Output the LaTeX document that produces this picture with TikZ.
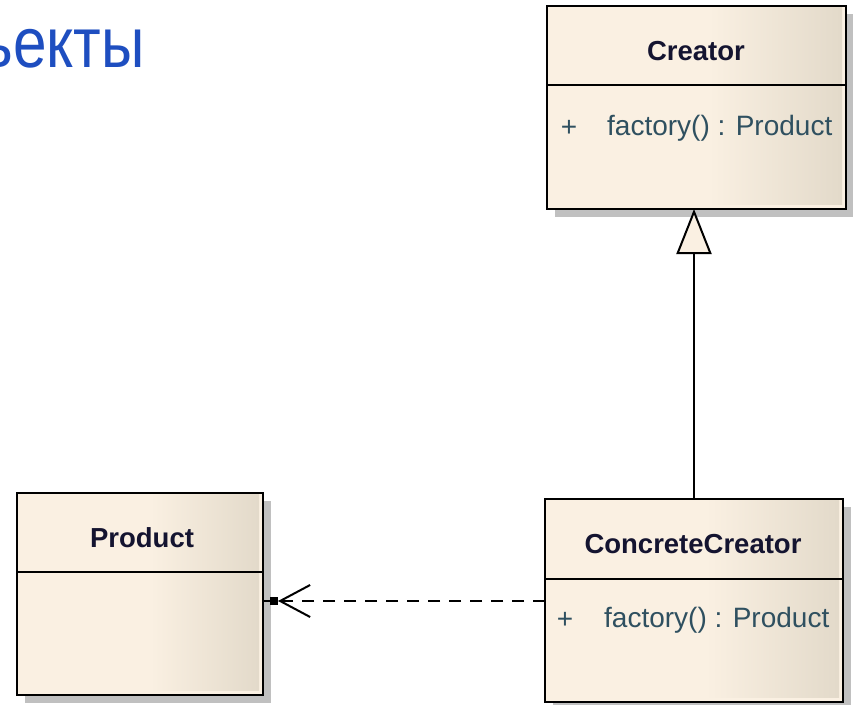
\documentclass[tikz,border=0pt]{standalone}
\usepackage{fontspec}
\setmainfont{Liberation Sans}
\usetikzlibrary{arrows.meta,shadows}
\definecolor{cream}{HTML}{FAF0E2}
\definecolor{tanc}{HTML}{E2D9C9}
\definecolor{titleblue}{HTML}{1E4EC0}
\definecolor{shadowgray}{HTML}{C0C0C0}
\definecolor{nametext}{HTML}{141430}
\definecolor{attrtext}{HTML}{2F5060}
\pgfdeclarehorizontalshading{umlshade}{100bp}{color(0bp)=(cream); color(25bp)=(cream); color(52bp)=(cream); color(75bp)=(tanc); color(100bp)=(tanc)}
\tikzset{
  classbox/.style={draw=black, line width=2.5pt, fill=cream, rectangle, anchor=north west,
    inner sep=0pt, outer sep=0pt,
    general shadow={fill=shadowgray, draw=none, shadow xshift=8pt, shadow yshift=-8pt},
    path picture={\shade[shading=umlshade] ([shift={(0pt,5pt)}]path picture bounding box.south west) rectangle ([shift={(-4pt,0pt)}]path picture bounding box.north east);}},
  divider/.style={line width=2.5pt, black},
  classname/.style={font=\fontsize{27.5}{30}\selectfont\bfseries, text=nametext, inner sep=0pt},
  attr/.style={font=\fontsize{28}{30}\selectfont, text=attrtext, inner sep=0pt},
  titletext/.style={font=\fontsize{71}{80}\selectfont, text=titleblue, inner sep=0pt},
  gen/.style={line width=2pt, -{Triangle[length=45pt,width=35pt,fill=cream]}},
  dep/.style={line width=2.2pt, dash pattern=on 12pt off 9pt, -{Straight Barb[length=30pt,width=32pt,line width=2pt]}},
  sq/.style={fill=black, draw=none, minimum size=8pt, inner sep=0pt, outer sep=0pt}
}
\begin{document}
\begin{tikzpicture}[x=1pt,y=-1pt]
\useasboundingbox (0,0) rectangle (853,704);
\clip (0,0) rectangle (853,704);
\fill[white] (0,0) rectangle (853,704);
% title
\node[titletext, anchor=base east] (title) at (145,67) {\scalebox{0.85}[1]{Объекты}};
% classes
\node[classbox, minimum width=299pt, minimum height=203pt] (creator) at (547,6) {};
\draw[divider] (creator.west |- 0,85) -- (creator.east |- 0,85);
\node[classname] (creatorname) at (696,51) {Creator};
\node[attr] (creatorplus) at (569,128) {+};
\node[attr, anchor=west] (creatorop) at (607,128) {factory() : Product};

\node[classbox, minimum width=246pt, minimum height=202pt] (product) at (17,493) {};
\draw[divider] (product.west |- 0,572) -- (product.east |- 0,572);
\node[classname] (productname) at (142,538) {Product};

\node[classbox, minimum width=298pt, minimum height=203pt] (concrete) at (545,499) {};
\draw[divider] (concrete.west |- 0,579) -- (concrete.east |- 0,579);
\node[classname] (concretename) at (693,544) {ConcreteCreator};
\node[attr] (concreteplus) at (565,620) {+};
\node[attr, anchor=west] (concreteop) at (604,620) {factory() : Product};

% connectors
\draw[gen] (concrete.north) -- (concrete.north |- creator.south);
\node[sq] (depsq) at (274,601) {};
\draw[dep] (concrete.west |- depsq) -- (depsq.east);
\draw[line width=2.2pt] (product.east |- depsq) -- (depsq.west);
\end{tikzpicture}
\end{document}
